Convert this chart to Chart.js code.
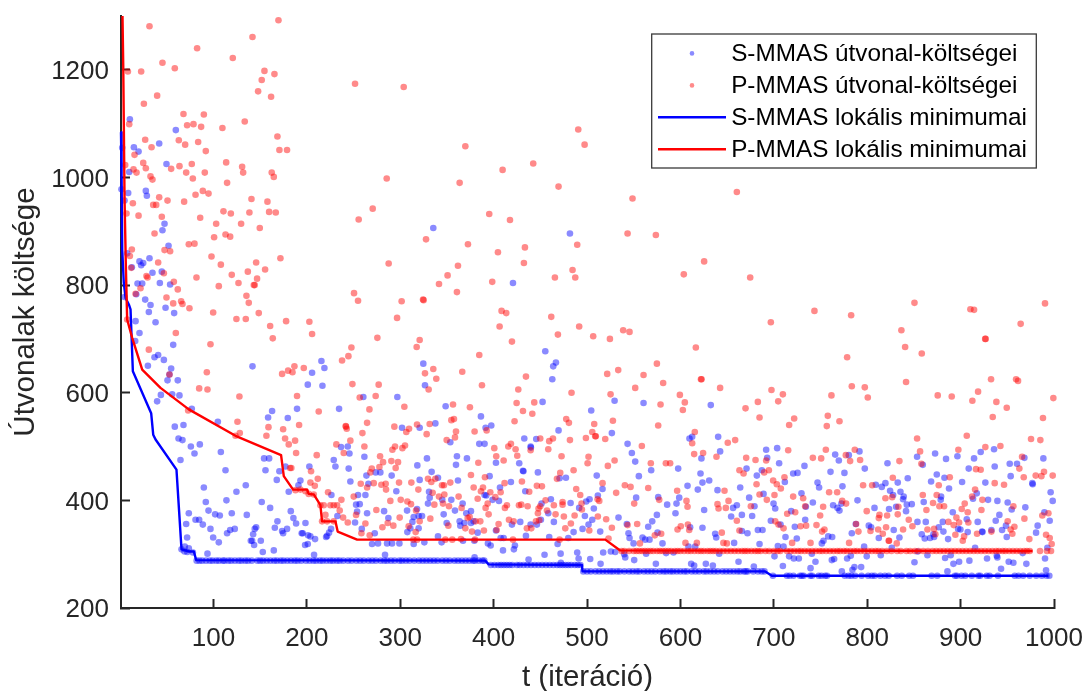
<!DOCTYPE html>
<html>
<head>
<meta charset="utf-8">
<title>S-MMAS / P-MMAS</title>
<script src="https://cdn.jsdelivr.net/npm/chart.js@4"></script>
<style>
  html, body { margin: 0; padding: 0; background: #fff; }
  canvas { display: block; }
</style>
</head>
<body>
<canvas id="costChart" width="1086" height="691"></canvas>
<script>
const xTicks = [100, 200, 300, 400, 500, 600, 700, 800, 900, 1000];
const yTicks = [200, 400, 600, 800, 1000, 1200];
const seriesNames = ['S-MMAS útvonal-költségei', 'P-MMAS útvonal-költségei', 'S-MMAS lokális minimumai', 'P-MMAS lokális minimumai'];

// local minimum curves
const sMinimum = [[1,1084],[1.6,1003],[2.3,866],[4,804],[5.9,776],[9.4,764],[11.2,755],[13.7,640],[33.3,562],[35.5,522],[38,513],[60.4,457],[65.8,309],[73.6,305],[79,305],[81.5,289],[391,288],[394.6,281],[494.5,280],[495.2,268],[690.8,268],[697.9,260],[994,260]];
const pMinimum = [[1,1600],[2.6,1300],[3.4,1208],[4.8,960],[6.2,835],[7.6,736],[13,702],[23.7,643],[43.3,609],[73.6,569],[123.6,520],[172.4,484],[175.3,445],[185.3,420],[200.3,420],[202,412],[207.4,411],[214.5,391],[216.3,361],[230.6,361],[233,342],[253.8,327],[519.5,327],[535.5,307],[977,306]];

// single path costs, one [t, cost] pair per visible dot
const sCosts = [
  [10.5,1108],[59.7,1088],[41.9,1063],[14.8,1056],[19.8,1048],[2.3,1055],[49.7,1025],[9.8,1010],[1.5,978],[8.7,971],[27.6,975],[28.7,966],[4.8,957],[47.6,914],[45.4,902],[51.9,873],[7.6,859],[31.5,850],[20.8,844],[24.8,841],[22.6,837],[12.6,833],[34.7,823],[44.7,825],[42.6,804],[53.6,801],[18.7,803],[23.7,803],[17.3,783],[4.8,778],[26.9,773],[32.6,763],[48.7,758],[30.8,750],[57.9,748],
  [16.6,733],[38,731],[20.8,711],[16.2,696],[56.9,689],[36.9,666],[40.8,670],[46.9,661],[29.8,650],[54.7,645],[52.9,634],[50.8,623],[61.8,623],[141.8,649],[215.6,659],[218.8,646],[205.6,637],[201,615],[216.7,613],[260.5,592],[296.9,592],[43.7,596],[55.8,597],[63.6,595],[39.7,584],[76.8,570],[162.8,566],[158.5,554],[179.6,553],[189.5,570],[234.5,570],[104.7,546],[58.6,537],[67.9,540],[301.9,535],[320.8,535],[62.6,515],[66.8,512],[75.8,500],[85.4,504],[79.7,487],[107.9,490],[64.7,475],[154.2,478],[159.6,478],[243.8,500],[236.6,499],[245.6,487],[261.6,481],[228.8,475],[230.6,463],[202.7,463],[177.1,463],[244.8,459],[155.7,456],[170.6,454],[112.9,456],[263.8,446],[273.7,452],[278.7,452],[290.8,446],[318.3,465],[320.8,438],[167.8,438],[246.6,435],[193.1,437],[191,428],[265.9,431],[134.6,428],[89.7,424],[124.6,416],[180.6,416],[295.8,417],[226.3,410],[254.8,410],[262.7,410],[113.9,400],[91.8,397],[151.7,397],[252.7,392],[256.6,393],[160.7,386],[94.7,381],[182.8,380],[253.8,379],[73.6,376],[101.8,374],[106.8,372],[119.6,376],[135.7,373],[264.5,376],[282.7,380],[232.7,371],[307.3,381],[318,384],[314.4,369],[185.6,367],[287.3,367],[80.8,364],[84.7,364],[168.5,361],[198.5,358],[88.6,355],[70.8,356],[188.5,357],[251.6,359],[313,360],[319.7,371],[96.8,347],[122.8,347],[117.9,345],[114.6,339],[145.7,350],[144.2,347],[142.5,337],[165.7,349],[173.5,343],[178.8,347],[174.6,339],[194.5,339],[195.6,339],[201.3,335],[225.9,347],[223.8,340],[221.7,334],[220.6,332],[258.8,347],[272.7,339],[307.6,341],[310.8,348],[319.7,348],[71.8,331],[99.7,331],[105.7,322],[140,325],[141.4,325],[150.7,325],[143.5,317],[208.8,328],[203.8,333],[201,319],[198.1,317],[269.8,319],[276.2,320],[285.9,320],[291.2,320],[299.1,320],[314.4,319],[69.3,314],[73.6,311],[152.8,304],[164.6,307],[93.6,301],[207.7,299],[283.7,299],[65.8,309],[69,305],[72,304],[78,303],
  [335.4,906],[481.7,896],[420.7,804],[324.7,654],[326.5,614],[455.3,677],[466.7,656],[463.8,649],[462.8,625],[529.5,585],[560.5,581],[632.5,577],[452.4,583],[348.6,575],[504.5,567],[386.4,556],[337.6,543],[397.5,539],[391.4,535],[469.5,530],[526.6,525],[609.7,515],[612.6,518],[640.4,518],[432.8,515],[445.6,514],[353.6,508],[384.6,505],[390.3,505],[543.4,505],[439.6,500],[439.9,498],[642.5,491],[548,488],[360.7,482],[359.7,466],[371.4,478],[328.6,478],[402.5,470],[427.4,469],[551.6,472],[622.5,478],[568.7,456],[597.6,459],[333.6,453],[431.4,455],[431.9,454],[447.4,452],[395.7,445],[510.4,446],[555.5,445],[621.5,450],[340.4,442],[361.8,437],[418.5,434],[470.6,441],[477.4,442],[623.6,433],[630.8,437],[406.8,424],[607.6,427],[618.6,420],[639.7,419],[516.6,421],[433.9,417],[330.8,416],[390.3,410],[392.1,409],[331.5,405],[354.7,401],[345,401],[398.9,401],[405.7,399],[461.3,402],[482.4,395],[511.6,409],[552.6,405],[576.2,406],[598.7,405],[329.7,394],[366.8,394],[451.3,394],[585.8,392],[595.8,394],[656.4,386],[660.4,391],[499.1,398],[502.7,402],[491.6,386],[507.3,385],[358.6,381],[375.7,380],[370.7,376],[346.5,374],[323.3,371],[458.5,376],[497.7,371],[574.8,373],[625.4,382],[594.7,376],[654.3,370],[533.7,368],[363.6,361],[368.6,358],[364.3,353],[375.7,358],[378.6,361],[349.7,358],[428.5,360],[419.6,355],[439.6,355],[446.3,355],[450.6,364],[464.5,360],[505.6,364],[501.6,355],[542.6,356],[569.8,361],[565.5,351],[610.4,350],[623.6,349],[495.2,347],[514.1,342],[485.6,341],[544.4,339],[545.5,330],[575.5,340],[382.9,340],[402.5,344],[340.4,333],[434.6,334],[459.5,332],[479.9,330],[559.4,331],[566.9,327],[562.3,327],[638.3,331],[637.2,338],[407.5,330],[410.7,330],[325.8,322],[344.3,322],[367.2,325],[379.3,325],[468.5,319],[549.8,320],[580.8,320],[657.5,321],[393.9,320],[396.8,316],[422.8,316],[421.7,309],[410,307],[525.5,305],[530.2,304],[539.8,300],[540.9,294],[517.3,303],[489.5,303],[491,292],[454.5,299],[471.7,301],[437.4,290],[503.4,291],[514.5,282],[472,284],[550.5,289],[573.7,282],[584.7,302],[592.6,303],[563.3,301],[608.6,314],[615.8,314],[641.5,301],[662.2,286],[611.5,282],[614.7,279],[627.2,282],[634.7,279],[379.6,294],
  [691.8,494],[703.6,497],[692.9,479],[705.7,469],[765.7,485],[769.6,474],[780.3,484],[791.7,491],[732.8,464],[797.4,459],[670.8,459],[687.2,456],[681.8,446],[720.7,450],[725.4,451],[760.7,453],[775.6,451],[821.7,469],[853.4,481],[859.5,466],[872.7,487],[884.4,477],[896.6,482],[914.4,478],[921.5,490],[935.8,495],[968.3,479],[988.6,478],[908.7,459],[936.5,463],[952.6,468],[960.4,468],[953.6,445],[874.5,448],[882.7,442],[843.4,441],[868.4,435],[901.6,434],[926.5,433],[976.8,432],[977.2,430],[711.8,434],[746.8,433],[748.5,424],[773.5,426],[809.2,429],[815.6,425],[819.5,432],[832.7,433],[824.5,418],[827.7,410],[835.6,416],[839.1,407],[838.4,402],[887.6,422],[996.4,415],[664,424],[673.6,405],[689,412],[729.6,413],[789.6,400],[741.8,396],[699.7,394],[701.5,385],[679.3,389],[763.5,391],[768.2,386],[770.3,381],[772.4,394],[842.4,392],[847.7,393],[860.5,397],[879.1,407],[878.7,401],[929.4,401],[939.4,399],[950.4,396],[917.3,413],[913.3,403],[998.6,399],[807.8,386],[823.4,384],[830.9,388],[841.6,380],[891.6,378],[954.7,383],[969.3,387],[718.6,380],[734.3,388],[665.8,373],[676.8,371],[941.5,373],[989.7,378],[733.6,364],[696.8,362],[707.2,355],[722.5,351],[787.8,356],[801.7,353],[804.2,350],[853.8,360],[862.7,360],[880.9,360],[906.6,365],[918.3,360],[937.6,362],[995.4,362],[876.6,350],[899.8,346],[897.3,347],[907.6,341],[923,342],[923.4,341],[933,345],[944.4,345],[948.6,353],[982.5,353],[980.8,340],[665.8,343],[682.9,345],[687.9,345],[671.8,339],[828.4,345],[783.5,339],[858.4,337],[861.6,329],[870.9,337],[867.3,330],[871.6,332],[881.6,342],[886.6,328],[812.4,330],[834.5,331],[724.6,329],[712.5,332],[758.2,333],[762.5,332],[753.2,325],[751.4,320],[949.4,332],[684.7,319],[704.3,315],[710.4,314],[796.7,314],[826.3,312],[915.5,312],[853.8,305],[992.9,312],[966.5,302],[990.4,292],[700.7,296],[716.4,296],[721.4,292],[726.8,292],[740.7,301],[799.5,296],[814.5,298],[864.5,298],[889.4,298],[938.7,297],[939.4,294],[762.1,289],[764.6,291],[778.5,292],[782.4,297],[883.4,293],[909.4,288],[898.4,286],[892.3,282],[928.3,292],[951.5,286],[956.5,284],[970.4,282],[850.6,285],[744.6,286],[709.7,278],[739.3,274],[678.6,277],[786.3,276],[784.2,271],[793.5,276],[772.8,268],[943.3,273],[991.5,270],[885.9,268]
];

const pCosts = [
  [31.5,1281],[169.6,1292],[141.8,1261],[82.5,1240],[120.7,1222],[45.4,1213],[58.6,1203],[22.6,1197],[8.4,1197],[154.6,1198],[165.3,1192],[151.7,1181],[147.8,1160],[161.7,1150],[251.6,1174],[303.7,1168],[39.7,1152],[25.5,1137],[67.9,1118],[89.7,1117],[9.8,1099],[71.8,1097],[78.6,1099],[86.8,1094],[109.6,1092],[133.5,1104],[26.9,1070],[33.7,1056],[62.9,1069],[69.7,1061],[83.6,1066],[91.8,1049],[168.5,1076],[170.6,1051],[178.8,1051],[15.5,1042],[24.8,1027],[27.6,1017],[5.5,1023],[14.4,1015],[17.6,1009],[32.6,1002],[34.7,996],[54.7,1016],[63.6,1021],[70.8,1009],[76.8,1025],[77.9,998],[90.7,1009],[113.6,1028],[130.7,1020],[131.8,1009],[114.6,990],[162.4,1009],[164.6,1001],[285.5,998],[80.8,968],[88.6,975],[94.7,970],[41.9,963],[50.8,957],[68.6,955],[13.7,952],[35.5,949],[38.7,949],[140.7,960],[157.8,955],[110.7,937],[118.6,933],[138.5,935],[159.6,936],[166.7,935],[270.5,942],[255.5,922],[6.9,933],[19.8,929],[44.7,927],[85.8,925],[102.9,914],[129.6,914],[149.6,906],[36.9,896],[100.7,889],[112.9,894],[117.9,890],[73.6,876],[79.7,877],[47.6,865],[53.6,863],[12.6,866],[10.5,854],[97.9,853],[171.7,850],[107.9,838],[40.8,842],[145.7,842],[287.6,840],[11.9,832],[46.9,822],[136.8,825],[155.3,829],[119.6,819],[28.3,817],[29.4,814],[81.8,814],[146.7,812],[126.8,804],[57.6,806],[143.2,800],[144.2,800],[105.7,798],[21.9,794],[61.8,792],[250.5,785],[135.3,780],[254.8,771],[16.6,784],[49.7,777],[301.5,770],[56.9,766],[65.4,770],[66.8,765],[137.8,767],[74.3,757],[99.7,749],[148.5,748],[124.6,737],[134.6,737],[296.6,739],
  [7.6,736],[59.7,711],[96.8,690],[30.8,680],[160.7,724],[177.8,733],[202.7,732],[205.6,709],[163.5,701],[275.5,702],[317.6,685],[320.8,698],[247.7,684],[244.5,668],[237.7,660],[186.7,649],[196.7,646],[179.9,641],[184.6,638],[173.5,635],[92.9,638],[52.9,634],[84.7,608],[93.6,606],[248.8,616],[276.9,615],[189.5,594],[127.8,593],[273.7,594],[256.6,591],[304.4,574],[267,569],[72.9,567],[212.7,565],[125.7,546],[264.5,544],[191.7,540],[158.9,536],[174.6,532],[241.6,538],[241.9,537],[242.7,533],[259.5,525],[293.7,537],[309.4,533],[306.5,527],[318,541],[128.2,525],[123.6,520],[156.7,520],[176.7,515],[187.4,511],[246.6,511],[180.6,504],[231.6,504],[261.6,500],[294.4,500],[305.1,502],[302.3,497],[291.6,494],[188.5,488],[239.5,488],[210.6,484],[278.4,482],[281.6,471],[290.5,473],[297.6,471],[295.1,460],[277.7,462],[269.5,459],[268,452],[182,460],[183.4,460],[204.5,454],[211.7,440],[203.8,433],[208.5,427],[257.7,431],[271.6,432],[279.8,429],[284.4,431],[284.8,420],[264.5,424],[298.7,433],[311.9,433],[319.4,420],[222.7,415],[237,401],[250.2,407],[289.4,399],[300.5,401],[307.6,398],[311.5,393],[316.9,381],[235.2,381],[274.4,382],[219.9,373],[299.4,368],[238.8,368],[243.8,359],[252.7,373],[262.7,357],[286.6,358],[292.6,353],[280.9,350],[309,352],[320.8,361],[258.4,339],[267.3,335],[316.5,341],
  [187.8,419],[193.1,420],[198.5,417],[202,412],[207.4,411],[214.5,391],[218.1,391],[225.2,391],[228.8,391],[232.4,391],[216.3,361],[221.7,361],[228.8,361],[314,327],[318,327],
  [369.7,1058],[490.6,1089],[497.4,1061],[409.6,1014],[442.4,1026],[363.6,990],[469.5,983],[548.7,961],[660.4,973],[395.3,932],[417.5,921],[327.6,885],[372.5,876],[433.5,870],[404.6,861],[489.5,875],[543.4,896],[573.7,893],[625.4,844],[603.6,820],[361.8,836],[432.4,841],[350.7,818],[341.5,802],[398.5,806],[465.6,814],[487.4,814],[484.5,828],[360.7,787],[325,772],[324.4,773],[674.7,814],
  [408.5,752],[413.5,748],[406.4,723],[461.7,741],[468.8,708],[491.6,723],[506.6,705],[538.7,716],[545.5,713],[524.5,700],[419.6,695],[384.6,670],[616.5,684],[574.8,654],[335.4,644],[326.5,636],[338.6,626],[366.4,639],[521.6,635],[533.4,642],[434.6,630],[560.5,633],[581.5,618],[622,625],[622.6,625],[387.5,614],[330.4,606],[426.4,606],[551.6,609],[642.5,609],[483.4,600],[525.2,597],[599.4,596],[604.7,582],[424.6,581],[443.5,582],[356.5,578],[578.7,578],[374.6,573],[431.4,566],[441.4,561],[602.6,568],[354.7,549],[357.5,551],[422.4,547],[477.7,551],[480.6,544],[527.7,548],[507.7,542],[331.5,542],[328.3,523],[576.2,539],[379.6,528],[359.7,528],[392.5,530],[358.6,517],[349.7,512],[505.6,527],[508.8,519],[509.4,519],[498.8,516],[519.5,514],[615.4,527],[612.6,506],[449.9,515],[463.5,515],[459.5,510],[481.7,512],[418.5,505],[415.7,500],[400.7,497],[423.5,495],[458.5,495],[439.6,493],[558.7,501],[658.6,512],[650.7,507],[402.8,482],[425.3,483],[410.7,474],[472.7,482],[501.6,481],[500.6,469],[529.5,474],[522.3,464],[568.3,469],[584.4,469],[589,469],[624.3,488],[614.7,486],[638.6,481],[383.6,470],[663.2,456],[485.6,456],[471.3,451],[467.8,440],[375.7,447],[390.7,443],[329.7,440],[333.3,434],[337.6,440],[344.7,428],[346.8,428],[353.6,433],[411.7,432],[430.3,435],[446.3,427],[451.7,426],[516.6,432],[540.5,428],[546.6,425],[565.5,423],[596.5,418],[647.2,418],[378.6,424],[388.6,424],[386.4,417],[396.4,415],[407.5,415],[334.7,414],[341.5,407],[347.2,411],[362.5,407],[401.8,406],[438.1,416],[488.4,421],[492.7,410],[531.2,414],[511.3,402],[513.1,399],[336.5,392],[352.2,389],[345.8,394],[382.9,403],[393.6,394],[391.4,386],[414.2,391],[412.1,386],[427.1,391],[429.6,392],[436.4,389],[449.9,389],[448.1,385],[455.6,400],[464.5,391],[473.8,392],[473.8,397],[494.1,394],[494.5,383],[457.1,381],[466.3,374],[365.7,386],[394.6,374],[447.4,376],[475.2,370],[486.7,372],[550.5,394],[577.3,401],[606.5,399],[607.6,388],[639.7,393],[640.8,385],[648.6,386],[651.5,399],[332.2,366],[372.2,367],[374.3,369],[380.7,361],[385.7,361],[416.4,364],[421.4,361],[445.3,361],[448.8,363],[482.7,357],[511.6,370],[520.5,365],[553.7,356],[543.4,354],[351.5,353],[405.3,356],[435.6,348],[440.3,348],[369.7,348],[376.8,342],[389.6,344],[403.2,345],[476.7,348],[502.4,344],[526.6,349],[596.9,346],[600.4,352],[609.4,345],[608,355],[644.3,340],[660.4,362],[663.2,344],[579.4,338],[572.6,335],[556.6,320],[605.4,321],[617.6,321],[646,321],[649.7,320],[523,329],[348.3,327],[355.7,327],[365,328],[380,327],[420.7,327],[470.6,327],
  [696.8,731],[743.5,752],[782.8,744],[850.6,767],[910.5,755],[914.4,754],[990.4,766],[964.3,728],[836.6,716],[926.3,700],[926.8,700],[840.6,685],[858.4,673],[778.5,666],[932.6,625],[959.4,625],[961.5,622],[841.6,620],[697.5,605],[709.7,597],[704.7,584],[783.5,612],[797.4,610],[800.6,591],[761.7,595],[875.5,595],[890.5,593],[918.7,602],[912.6,585],[938.3,583],[949.4,572],[999.3,590],[669.7,571],[682.9,583],[684.7,554],[721.8,552],[716.4,540],[757.8,557],[756.7,538],[770.3,547],[934.4,555],[988.2,553],[853.4,515],[906.6,520],[975.4,514],[985.4,512],[942.6,501],[926.5,499],[897.6,494],[856.6,491],[715.4,493],[755.7,494],[786.7,494],[670.4,479],[680.4,475],[691.8,474],[741.8,479],[750.7,478],[777.1,484],[781.7,473],[792.4,475],[834.5,473],[965.8,481],[858,468],[667.6,450],[689.7,452],[694.7,456],[916.5,458],[921.5,457],[962.9,459],[989.3,453],[986.5,445],[980.4,446],[998.6,446],[967.6,443],[711.4,443],[699.3,437],[703.2,430],[707.5,422],[681.5,430],[827.4,442],[888.4,443],[936.5,432],[946.5,429],[876.6,428],[795.6,428],[805.3,428],[915.5,420],[759.2,415],[767.8,415],[684.7,411],[700.7,410],[720.7,407],[731.4,404],[859.5,410],[874.4,410],[819.5,404],[826.7,406],[912.3,407],[923.3,401],[692.5,401],[773.2,399],[777.4,394],[870.5,395],[877.3,389],[882.3,389],[904.4,394],[901.2,384],[956.5,389],[675.4,389],[733.6,389],[752.8,388],[922.3,382],[907.6,378],[863.4,382],[833.4,388],[832.7,374],[799.5,380],[813.1,373],[812.4,367],[821.3,372],[714.3,375],[722.9,378],[749.6,372],[994,376],[987.5,372],[895.5,368],[898.4,359],[968.3,366],[950.4,361],[908.3,359],[844.5,364],[848.4,352],[886.9,360],[892.6,354],[701.5,361],[705,355],[710.4,348],[728.6,352],[734.6,353],[745.7,354],[754.2,346],[751.7,342],[788.1,356],[790.6,342],[803.5,343],[811.7,346],[820.2,350],[816.7,338],[838.4,346],[864.5,346],[871.6,347],[873,337],[894.4,336],[903.7,333],[902.3,325],[917.6,338],[933,342],[957.6,351],[953.6,346],[955.4,338],[991.5,336],[995.4,330],[973.6,328],[739.3,321],[719.6,321],[780.6,321],[823,325],[823.4,325],[831.6,320],[997.5,319],[985,306],[992.5,306],[996.8,306]
];

// iterations where the path cost sits on the current minimum
const sHits289 = [82,85,88,92,96,99,103,106,110,112,116,119,123,127,130,134,137,141,147,150,153,157,161,165,168,172,175,179,183,187,190,194,199,203,207,210,214,217,221,225,228,232,235,239,244,248,253,257,261,266,270,274,279,283,286,290,294,299,302,306,310,315,320,324,328,332,336,340,345,349,353,358,362,366,370,374,378,380,384,388,390];
const sHits280 = [397,401,405,408,411,414,417,420,425,428,432,436,440,444,448,452,456,460,464,468,471,474,477,480,483,487,490,493];
const sHits268 = [496,500,504,509,513,517,521,525,528,532,535,540,545,549,553,556,561,565,569,573,578,582,585,589,592,596,600,604,607,612,616,620,625,628,632,636,640,645,649,653,657,661,664,668,670,672,678,683,687,690];
const sHits260 = [699,714,717,721,728,730,732,739,741,748,751,755,757,776,780,783,787,794,801,805,808,814,819,823,832,837,845,849,869,875,894,896,901,905,912,919,921,928,931,940,958,962,967,974,981,987,992,995];
const pHits307 = [537,540,545,550,553,556,559,562,565,568,571,575,578,581,584,587,590,594,597,600,604,608,611,615,619,622,625,629,632,635,638,642,646,650,654,658,662,666,669,672,676,680,683,686,691,695,700,704,707,714,718,722,726,729,733,737,741,745,749,752,756,760,764,768,771,775,778,782,786,789,793,797,801,805,809,812,816,821,826,832,836,842,846,851,855,860,865,870,874,878,882,886,890,894,898,902,906,910,914,918,922,926,930,934,938,941,945,948,952,956,960,964,968,971,974];

const sPoints = sCosts.concat(
  sHits289.map(t => [t, 288]), sHits280.map(t => [t, 280]),
  sHits268.map(t => [t, 268]), sHits260.map(t => [t, 260]));
const pPoints = pCosts.concat(pHits307.map(t => [t, 306]));
const toXY = list => list.map(p => ({ x: p[0], y: p[1] }));

const inkColor = '#262626';
const sColor = 'rgb(0,0,255)', pColor = 'rgb(255,0,0)';
const sDotColor = 'rgba(0,0,255,0.46)', pDotColor = 'rgba(255,0,0,0.46)';
const fontName = '"Liberation Sans", Arial, sans-serif';

// small sprites so the legend markers get the exact MATLAB-like look
function dotSprite(color) {
  const c = document.createElement('canvas');
  c.width = 8; c.height = 7;
  const g = c.getContext('2d');
  g.fillStyle = color;
  g.beginPath(); g.arc(4, 2.4, 2.3, 0, Math.PI * 2); g.fill();
  return c;
}
function lineSprite(color) {
  const c = document.createElement('canvas');
  c.width = 68; c.height = 5;
  const g = c.getContext('2d');
  g.fillStyle = color;
  g.fillRect(0, 0, 68, 2.5);
  return c;
}
const legendMarks = [dotSprite(sDotColor), dotSprite(pDotColor), lineSprite(sColor), lineSprite(pColor)];

const legendFrame = {
  id: 'legendFrame',
  beforeDraw(chart) {
    // move the library legend to its place in the upper right corner
    const lg = chart.legend;
    lg.left = 657.3; lg.top = 34.65; lg.right = 1036; lg.bottom = 185;
  },
  beforeDatasetsDraw(chart) {
    const ctx = chart.ctx;
    ctx.save();
    ctx.strokeStyle = '#3a3a3a';
    ctx.lineWidth = 1.3;
    ctx.strokeRect(651.7, 34, 384.6, 134);
    ctx.restore();
  }
};

// the y and x scales keep exactly the room the reference gives them
const noOverhang = s => { s.paddingLeft = s.paddingRight = s.paddingTop = s.paddingBottom = 0; };

new Chart(document.getElementById('costChart').getContext('2d'), {
  type: 'scatter',
  data: {
    datasets: [
      { label: seriesNames[0], data: toXY(sPoints), order: 4, clip: false, pointRadius: 3.3, pointBorderWidth: 0, pointBackgroundColor: sDotColor },
      { label: seriesNames[1], data: toXY(pPoints), order: 3, clip: false, pointRadius: 3.3, pointBorderWidth: 0, pointBackgroundColor: pDotColor },
      { label: seriesNames[2], data: toXY(sMinimum), order: 2, showLine: true, pointRadius: 0, borderColor: sColor, borderWidth: 2.4, borderJoinStyle: 'round', clip: { left: 3, top: 0, right: 3, bottom: 3 } },
      { label: seriesNames[3], data: toXY(pMinimum), order: 1, showLine: true, pointRadius: 0, borderColor: pColor, borderWidth: 2.4, borderJoinStyle: 'round', clip: { left: 3, top: 0, right: 3, bottom: 3 } }
    ]
  },
  options: {
    responsive: false,
    animation: false,
    layout: { padding: { top: 16, right: 32, left: 0, bottom: 0 } },
    plugins: {
      tooltip: { enabled: false },
      legend: {
        position: 'chartArea',
        align: 'start',
        labels: {
          usePointStyle: true,
          pointStyleWidth: 54,
          padding: 7.7,
          color: '#000',
          font: { family: fontName, size: 24.3, lineHeight: 1 },
          generateLabels: () => seriesNames.map((name, i) => ({
            text: name, datasetIndex: i, pointStyle: legendMarks[i], fontColor: '#000', lineWidth: 0
          }))
        }
      }
    },
    scales: {
      x: {
        type: 'linear',
        min: 1,
        max: 1000,
        afterBuildTicks: s => { s.ticks = xTicks.map(value => ({ value })); },
        afterFit: s => { s.height = 83; noOverhang(s); },
        grid: { drawOnChartArea: false, tickLength: -9, tickColor: inkColor, tickWidth: 2 },
        border: { color: inkColor, width: 2 },
        ticks: { autoSkip: false, maxRotation: 0, color: inkColor, padding: 24, font: { family: fontName, size: 26 }, callback: v => String(v) },
        title: { display: true, text: 't (iteráció)', color: inkColor, font: { family: fontName, size: 29.5, lineHeight: 1 }, padding: { top: 0, bottom: -2 } }
      },
      y: {
        min: 200,
        max: 1300,
        afterBuildTicks: s => { s.ticks = yTicks.map(value => ({ value })); },
        afterFit: s => { s.width = 121; noOverhang(s); },
        grid: { drawOnChartArea: false, tickLength: -9, tickColor: inkColor, tickWidth: 2 },
        border: { color: inkColor, width: 2 },
        ticks: { autoSkip: false, color: inkColor, padding: 21, labelOffset: 2, font: { family: fontName, size: 26 }, callback: v => String(v) },
        title: { display: true, text: 'Útvonalak költsége', color: inkColor, font: { family: fontName, size: 29.5, lineHeight: 1 }, padding: { top: 11, bottom: 0 } }
      }
    }
  },
  plugins: [legendFrame]
});
</script>
</body>
</html>
